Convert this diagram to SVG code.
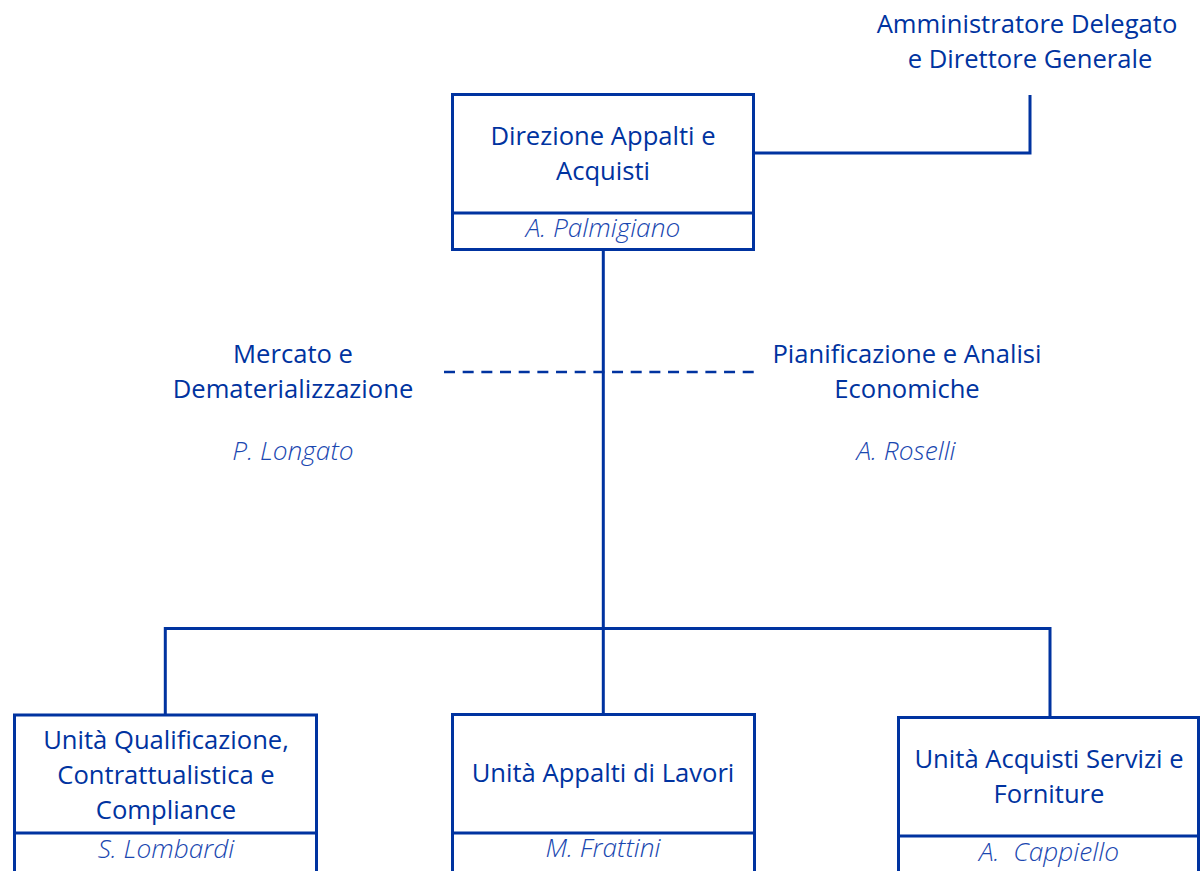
<svg xmlns="http://www.w3.org/2000/svg" width="1200" height="871" viewBox="0 0 1200 871">
<style>
.t{font-family:"Open Sans","Noto Sans",sans-serif;font-size:25.6px;fill:#0033a0;text-anchor:middle}
.n{font-family:"Open Sans","Noto Sans",sans-serif;font-size:26.3px;font-style:italic;font-weight:300;fill:#1a47b0;text-anchor:middle}
.b{fill:#fff;stroke:#0033a0;stroke-width:3}
.l{fill:none;stroke:#0033a0;stroke-width:3}
.d{fill:none;stroke:#0033a0;stroke-width:2.7;stroke-dasharray:11 7.67}
</style>
<rect width="1200" height="871" fill="#fff"/>
<g id="connectors">
<polyline class="l" points="754,153 1030,153 1030,95"/>
<line class="l" x1="603.3" y1="250" x2="603.3" y2="714"/>
<polyline class="l" points="165.3,714 165.3,628.5 1050,628.5 1050,717"/>
<line class="d" x1="444" y1="372" x2="756" y2="372"/>
</g>
<g id="ad">
<text class="t" x="1027" y="33">Amministratore Delegato</text>
<text class="t" x="1030" y="68">e Direttore Generale</text>
</g>
<g id="direzione">
<rect class="b" x="452.5" y="94.5" width="301" height="155"/>
<line class="l" x1="452.5" y1="213" x2="753.5" y2="213"/>
<text class="t" x="603" y="145">Direzione Appalti e</text>
<text class="t" x="603" y="180">Acquisti</text>
<text class="n" x="603" y="237">A. Palmigiano</text>
</g>
<g id="mercato">
<text class="t" x="293" y="363">Mercato e</text>
<text class="t" x="293" y="398">Dematerializzazione</text>
<text class="n" x="293" y="460">P. Longato</text>
</g>
<g id="pianificazione">
<text class="t" x="907" y="363">Pianificazione e Analisi</text>
<text class="t" x="907" y="398">Economiche</text>
<text class="n" x="906" y="460">A. Roselli</text>
</g>
<g id="qualificazione">
<rect class="b" x="14.5" y="715" width="302" height="170"/>
<line class="l" x1="14.5" y1="833" x2="316.5" y2="833"/>
<text class="t" x="166" y="749">Unità Qualificazione,</text>
<text class="t" x="166" y="784">Contrattualistica e</text>
<text class="t" x="166" y="819">Compliance</text>
<text class="n" x="166" y="858">S. Lombardi</text>
</g>
<g id="lavori">
<rect class="b" x="452.5" y="714.5" width="302" height="170"/>
<line class="l" x1="452.5" y1="833" x2="754.5" y2="833"/>
<text class="t" x="603" y="782">Unità Appalti di Lavori</text>
<text class="n" x="603" y="857">M. Frattini</text>
</g>
<g id="acquisti">
<rect class="b" x="898.5" y="717.5" width="300" height="170"/>
<line class="l" x1="898.5" y1="836" x2="1198.5" y2="836"/>
<text class="t" x="1049" y="768">Unità Acquisti Servizi e</text>
<text class="t" x="1049" y="803">Forniture</text>
<text class="n" x="1049" y="861" xml:space="preserve">A.  Cappiello</text>
</g>
</svg>
